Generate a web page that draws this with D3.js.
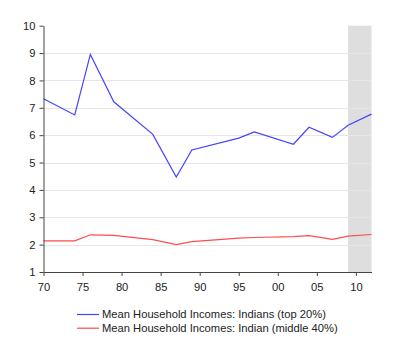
<!DOCTYPE html>
<html lang="en">
  <head>
    <meta charset="utf-8">
    <title>Mean household incomes</title>
    <script src="https://d3js.org/d3.v7.min.js"></script>
    <style type="text/css">
      body { margin: 0; background: #fff; }
      text { font-family: "Liberation Sans", Arial, sans-serif; font-size: 11.2px; fill: #222; }
      .grid line { stroke: #e6e6e6; stroke-width: 1px; }
      .axis path, .axis line { stroke: #444; }
      .line { fill: none; stroke-width: 1.2px; }
    </style>
  </head>
  <body>
    <script>
      var w = 400;
      var h = 361;

      var years = [1970, 1974, 1976, 1979, 1984, 1987, 1989, 1995, 1997, 2002, 2004, 2007, 2009, 2012];
      var top20 = [7.33, 6.74, 8.95, 7.22, 6.03, 4.47, 5.46, 5.89, 6.12, 5.67, 6.29, 5.92, 6.36, 6.77];
      var middle40 = [2.14, 2.14, 2.36, 2.34, 2.18, 2.0, 2.11, 2.24, 2.26, 2.29, 2.33, 2.19, 2.31, 2.37];
      var shadeYears = [2009, 2012];
      var xTicks = [1970, 1975, 1980, 1985, 1990, 1995, 2000, 2005, 2010];
      var yTicks = [1, 2, 3, 4, 5, 6, 7, 8, 9, 10];
      var seriesNames = ["Mean Household Incomes: Indians (top 20%)",
                         "Mean Household Incomes: Indian (middle 40%)"];
      var seriesColors = ["#4444ff", "#ff4d4d"];

      var svg = d3.select("body").append("svg")
          .attr("width", w).attr("height", h);

      var xScale = d3.scaleLinear().domain([1970, 2012]).range([43.5, 371.5]);
      var yScale = d3.scaleLinear().domain([1, 10]).range([272, 25.7]);

      // recession shading
      svg.append("rect")
        .attr("x", xScale(shadeYears[0]))
        .attr("y", yScale(10))
        .attr("width", xScale(shadeYears[1]) - xScale(shadeYears[0]))
        .attr("height", yScale(1) - yScale(10))
        .attr("fill", "#dedede");

      // gridlines
      svg.append("g").attr("class", "grid")
        .selectAll("line")
        .data(yTicks.slice(1, -1))
        .enter().append("line")
        .attr("x1", xScale(1970)).attr("x2", xScale(2012))
        .attr("y1", d => Math.round(yScale(d)) + 0.5)
        .attr("y2", d => Math.round(yScale(d)) + 0.5);

      var lineGen = d3.line()
        .x((d, i) => xScale(years[i]))
        .y(d => yScale(d));

      [top20, middle40].forEach(function (s, i) {
        svg.append("path")
          .datum(s)
          .attr("class", "line")
          .attr("stroke", seriesColors[i])
          .attr("d", lineGen);
      });

      var xAxis = d3.axisBottom(xScale)
        .tickValues(xTicks)
        .tickSize(4)
        .tickSizeOuter(0)
        .tickFormat(d => d3.format("02d")(d % 100));

      svg.append("g").attr("class", "axis")
        .attr("transform", "translate(0," + 272 + ")")
        .call(xAxis)
        .call(g => g.selectAll("text").attr("dy", "1.05em").style("font-size", "11.2px").attr("fill", "#222"));

      var yAxis = d3.axisLeft(yScale)
        .tickValues(yTicks)
        .tickSize(4)
        .tickSizeOuter(0)
        .tickFormat(d3.format("d"));

      svg.append("g").attr("class", "axis")
        .attr("transform", "translate(" + 43.5 + ",0)")
        .call(yAxis)
        .call(g => g.selectAll("text").attr("x", -8).style("font-size", "11.2px").attr("fill", "#222"));

      // legend
      var legend = svg.append("g");
      seriesNames.forEach(function (name, i) {
        var ly = 314.5 + i * 13.7;
        legend.append("line")
          .attr("x1", 77).attr("x2", 99)
          .attr("y1", ly).attr("y2", ly)
          .attr("stroke", seriesColors[i])
          .attr("stroke-width", 1.2);
        legend.append("text")
          .attr("x", 102).attr("y", ly)
          .attr("dy", "0.35em")
          .text(name);
      });
    </script>
  </body>
</html>
